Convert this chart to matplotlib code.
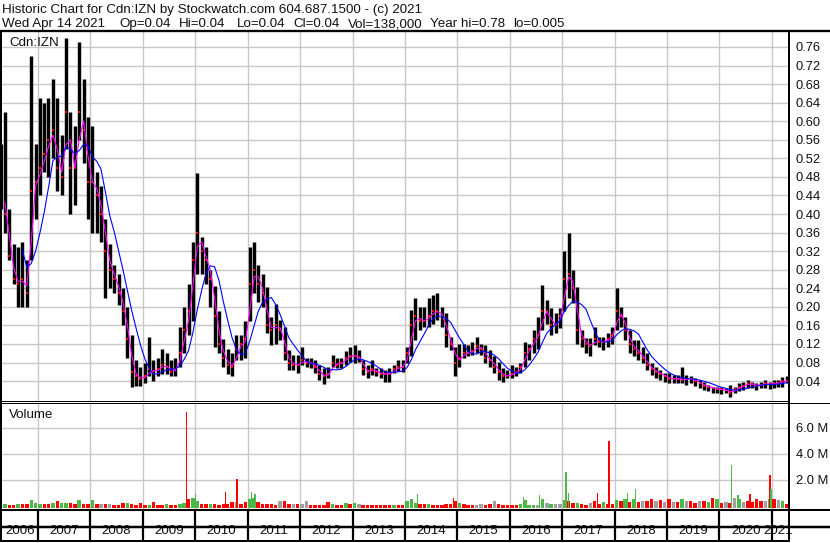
import matplotlib
matplotlib.use("Agg")
import matplotlib.pyplot as plt
import matplotlib.dates as mdates
from matplotlib.transforms import Affine2D
from matplotlib.lines import Line2D
import numpy as np
import pandas as pd

plt.rcParams['font.family'] = ['Liberation Sans', 'DejaVu Sans']

# ---------------- data (monthly, Apr 2006 .. Apr 2021) ----------------
month_start = '2006-04-01'
month_end = '2021-04-01'

price_high = [
    0.55, 0.62, 0.41, 0.335, 0.33, 0.34, 0.30, 0.74, 0.55,
    0.65, 0.64, 0.65, 0.69, 0.65, 0.57, 0.78, 0.62, 0.59, 0.77, 0.69, 0.61,
    0.59, 0.49, 0.46, 0.39, 0.335, 0.29, 0.27, 0.24, 0.20, 0.14, 0.085, 0.07,
    0.08, 0.134, 0.085, 0.09, 0.11, 0.10, 0.085, 0.09, 0.157, 0.20, 0.25, 0.34,
    0.488, 0.35, 0.33, 0.28, 0.244, 0.19, 0.13, 0.11, 0.10, 0.14, 0.14, 0.17,
    0.33, 0.34, 0.29, 0.27, 0.243, 0.179, 0.207, 0.172, 0.157, 0.107, 0.096, 0.096,
    0.114, 0.089, 0.089, 0.085, 0.075, 0.068, 0.071, 0.096, 0.089, 0.089, 0.104, 0.114,
    0.118, 0.107, 0.085, 0.075, 0.085, 0.068, 0.068, 0.064, 0.068, 0.075, 0.085, 0.085,
    0.114, 0.193, 0.218, 0.20, 0.20, 0.218, 0.225, 0.23, 0.20, 0.186, 0.136, 0.114,
    0.121, 0.121, 0.118, 0.125, 0.136, 0.121, 0.118, 0.107, 0.093, 0.082, 0.068, 0.064,
    0.075, 0.071, 0.078, 0.125, 0.121, 0.15, 0.179, 0.247, 0.215, 0.197, 0.186, 0.197,
    0.32, 0.36, 0.28, 0.243, 0.15, 0.132, 0.132, 0.157, 0.136, 0.136, 0.143, 0.157,
    0.24, 0.20, 0.179, 0.15, 0.129, 0.129, 0.114, 0.10, 0.078, 0.071, 0.064, 0.057,
    0.057, 0.053, 0.053, 0.071, 0.053, 0.05, 0.046, 0.042, 0.039, 0.032, 0.028, 0.028,
    0.028, 0.025, 0.032, 0.028, 0.035, 0.039, 0.042, 0.039, 0.035, 0.039, 0.042, 0.039,
    0.042, 0.042, 0.049, 0.05,
]
price_low = [
    0.41, 0.36, 0.30, 0.25, 0.20, 0.20, 0.20, 0.30, 0.39,
    0.44, 0.49, 0.48, 0.52, 0.45, 0.44, 0.54, 0.40, 0.42, 0.56, 0.51, 0.39,
    0.36, 0.36, 0.34, 0.22, 0.24, 0.23, 0.205, 0.16, 0.09, 0.028, 0.03, 0.03,
    0.035, 0.05, 0.04, 0.05, 0.056, 0.056, 0.05, 0.05, 0.07, 0.10, 0.14, 0.17,
    0.27, 0.27, 0.25, 0.20, 0.114, 0.10, 0.07, 0.056, 0.05, 0.085, 0.085, 0.09,
    0.17, 0.23, 0.21, 0.20, 0.143, 0.118, 0.12, 0.129, 0.085, 0.064, 0.064, 0.057,
    0.075, 0.071, 0.068, 0.057, 0.042, 0.034, 0.046, 0.071, 0.068, 0.068, 0.075, 0.082,
    0.078, 0.082, 0.054, 0.046, 0.054, 0.05, 0.046, 0.037, 0.039, 0.057, 0.061, 0.06,
    0.078, 0.093, 0.129, 0.15, 0.157, 0.157, 0.164, 0.172, 0.157, 0.114, 0.107, 0.05,
    0.071, 0.089, 0.093, 0.096, 0.10, 0.096, 0.078, 0.071, 0.057, 0.042, 0.039, 0.046,
    0.046, 0.05, 0.057, 0.071, 0.085, 0.10, 0.11, 0.15, 0.164, 0.139, 0.143, 0.154,
    0.19, 0.22, 0.208, 0.12, 0.114, 0.10, 0.093, 0.118, 0.114, 0.107, 0.114, 0.121,
    0.15, 0.157, 0.129, 0.10, 0.093, 0.086, 0.078, 0.064, 0.053, 0.046, 0.042, 0.039,
    0.035, 0.035, 0.035, 0.035, 0.032, 0.035, 0.03, 0.025, 0.021, 0.018, 0.014, 0.014,
    0.012, 0.014, 0.005, 0.014, 0.018, 0.021, 0.025, 0.025, 0.021, 0.025, 0.025, 0.023,
    0.025, 0.027, 0.028, 0.035,
]
price_close = [
    0.45, 0.40, 0.31, 0.26, 0.25, 0.26, 0.23, 0.45, 0.47,
    0.50, 0.53, 0.56, 0.58, 0.50, 0.48, 0.62, 0.50, 0.50, 0.62, 0.58, 0.47,
    0.47, 0.44, 0.40, 0.32, 0.28, 0.26, 0.23, 0.19, 0.13, 0.06, 0.05, 0.045,
    0.05, 0.065, 0.06, 0.065, 0.075, 0.07, 0.06, 0.065, 0.10, 0.15, 0.19, 0.30,
    0.36, 0.32, 0.30, 0.26, 0.18, 0.12, 0.09, 0.075, 0.07, 0.11, 0.12, 0.13,
    0.25, 0.28, 0.25, 0.23, 0.16, 0.15, 0.16, 0.15, 0.10, 0.08, 0.075, 0.075,
    0.085, 0.08, 0.078, 0.07, 0.055, 0.05, 0.055, 0.08, 0.075, 0.08, 0.09, 0.095,
    0.095, 0.09, 0.065, 0.06, 0.065, 0.06, 0.055, 0.055, 0.055, 0.065, 0.07, 0.07,
    0.10, 0.16, 0.18, 0.17, 0.17, 0.18, 0.19, 0.19, 0.18, 0.14, 0.12, 0.08,
    0.09, 0.10, 0.10, 0.105, 0.115, 0.11, 0.09, 0.085, 0.07, 0.06, 0.05, 0.052,
    0.055, 0.06, 0.07, 0.10, 0.11, 0.13, 0.14, 0.19, 0.19, 0.16, 0.16, 0.18,
    0.26, 0.27, 0.24, 0.15, 0.13, 0.12, 0.115, 0.13, 0.125, 0.125, 0.13, 0.14,
    0.19, 0.18, 0.15, 0.12, 0.11, 0.10, 0.09, 0.075, 0.065, 0.06, 0.055, 0.05,
    0.045, 0.045, 0.045, 0.043, 0.045, 0.045, 0.04, 0.035, 0.03, 0.027, 0.025, 0.022,
    0.022, 0.02, 0.015, 0.022, 0.027, 0.03, 0.035, 0.033, 0.03, 0.032, 0.035, 0.033,
    0.035, 0.036, 0.04, 0.04,
]
volume_m = [
    0.15, 0.15, 0.10, 0.08, 0.15, 0.12, 0.15, 0.45, 0.20,
    0.18, 0.12, 0.15, 0.20, 0.35, 0.25, 0.20, 0.20, 0.15, 0.45, 0.18, 0.15,
    0.45, 0.15, 0.12, 0.15, 0.18, 0.10, 0.10, 0.20, 0.20, 0.15, 0.10, 0.20,
    0.10, 0.08, 0.30, 0.10, 0.10, 0.12, 0.08, 0.10, 0.12, 0.25, 0.50, 0.60,
    0.40, 0.18, 0.15, 0.15, 0.12, 0.10, 0.12, 0.18, 0.30, 0.30, 0.18, 0.30,
    0.50, 0.65, 0.30, 0.18, 0.18, 0.12, 0.10, 0.35, 0.35, 0.15, 0.18, 0.12,
    0.15, 0.35, 0.10, 0.10, 0.08, 0.10, 0.30, 0.12, 0.10, 0.08, 0.22, 0.12,
    0.22, 0.15, 0.10, 0.08, 0.08, 0.06, 0.06, 0.06, 0.06, 0.10, 0.08, 0.08,
    0.40, 0.50, 0.25, 0.15, 0.12, 0.12, 0.10, 0.10, 0.10, 0.12, 0.18, 0.40,
    0.22, 0.15, 0.10, 0.10, 0.08, 0.12, 0.10, 0.15, 0.40, 0.18, 0.10, 0.06,
    0.06, 0.06, 0.12, 0.45, 0.10, 0.08, 0.10, 0.50, 0.22, 0.15, 0.15, 0.18,
    0.45, 0.40, 0.22, 0.22, 0.15, 0.10, 0.25, 0.35, 0.12, 0.30, 0.12, 0.15,
    0.45, 0.40, 0.50, 0.30, 0.50, 0.30, 0.35, 0.40, 0.50, 0.35, 0.45, 0.30,
    0.50, 0.30, 0.30, 0.50, 0.40, 0.35, 0.25, 0.40, 0.35, 0.30, 0.60, 0.55,
    0.25, 0.30, 0.25, 0.60, 0.50, 0.30, 0.35, 0.30, 0.50, 0.35, 0.40, 0.55,
    0.50, 0.45, 0.40, 0.12,
]
volume_dir = list(
    "rgrrgrrgg"
    "grrgrggrrgrr"
    "grkrkrrrgrrr"
    "rgrrrgrrggrg"
    "grrgrrrrrkrr"
    "ggrrrrrkrrkr"
    "kkrrrrrgrrgr"
    "gkrrrrrrrgrr"
    "gggrrgrrrrrr"
    "grrrkkrrkrrr"
    "rrggggkgkgkk"
    "grrgrrkrrgrr"
    "grgrgrkrrkrk"
    "rkrgkrrkrgrg"
    "rkrkgkrrrrkg"
    "rkgr"
)
spike_dates = ['2009-11-02', '2010-01-02', '2010-07-30', '2010-10-19', '2011-01-28',
               '2011-02-20', '2014-03-28', '2014-12-05', '2016-04-05', '2016-07-27',
               '2017-01-25', '2017-02-13', '2017-09-02', '2017-11-24', '2018-04-01',
               '2018-05-27', '2020-03-25', '2020-05-08', '2020-07-31', '2020-12-17',
               '2020-12-24']
spike_volume_m = [7.2, 0.95, 1.1, 2.05, 1.1, 0.95, 0.92, 0.64, 0.7, 0.85, 2.64, 0.97,
                  0.97, 5.0, 0.97, 1.3, 3.15, 0.85, 0.92, 2.38, 1.3]
spike_dir = list("rgrrgggrggggrrggggrrg")

price_ticks = [0.04, 0.08, 0.12, 0.16, 0.20, 0.24, 0.28, 0.32, 0.36, 0.40,
               0.44, 0.48, 0.52, 0.56, 0.60, 0.64, 0.68, 0.72, 0.76]
volume_ticks = [2.0, 4.0, 6.0]
year_labels = list(range(2006, 2022))

header1 = "Historic Chart for Cdn:IZN by Stockwatch.com 604.687.1500 - (c) 2021"
header2_items = ["Wed Apr 14 2021", "Op=0.04", "Hi=0.04", "Lo=0.04", "Cl=0.04",
                 "Vol=138,000", "Year hi=0.78", "lo=0.005"]
header2_x = [2, 119.3, 179, 237.3, 293.3, 348.3, 430, 513]

# ---------------- figure ----------------
W, H = 830, 543
fig = plt.figure(figsize=(W / 100, H / 100), dpi=100)
fig.patch.set_facecolor('white')
pix = Affine2D().scale(1.0 / W, -1.0 / H).translate(0, 1) + fig.transFigure

def add_ax(x0, y0, x1, y1, **kw):
    return fig.add_axes([x0 / W, 1 - y1 / H, (x1 - x0) / W, (y1 - y0) / H], **kw)

dates = pd.date_range(month_start, month_end, freq='MS') + pd.Timedelta(days=14)
n = len(dates)
hi = np.array(price_high[:n]); lo = np.array(price_low[:n]); cl = np.array(price_close[:n])
ma_fast = pd.Series(cl).rolling(2).mean().values
ma_slow = pd.Series(cl).rolling(6).mean().values

ppd = 734.0 / (mdates.date2num(pd.Timestamp('2021-01-01')) - mdates.date2num(pd.Timestamp('2007-01-01')))
x_left = mdates.date2num(pd.Timestamp('2007-01-01')) - 36.0 / ppd
x_right = mdates.date2num(pd.Timestamp('2021-01-01')) + 17.0 / ppd
year_bounds = [pd.Timestamp(f'{y}-01-01') for y in range(2007, 2022)]

GRID = '#c8c8c8'
FS = 9.3
HFS = 9.6
TXT = '#101010'

# price panel
axp = add_ax(2, 31, 789, 401)
axp.set_xlim(x_left, x_right)
axp.set_ylim(-0.0029, 0.7944)
for s in axp.spines.values():
    s.set_visible(False)
axp.set_yticks(price_ticks)
axp.set_yticklabels([f'{t:.2f}' for t in price_ticks])
axp.yaxis.tick_right()
axp.tick_params(axis='y', length=0, pad=5, labelsize=FS, labelcolor=TXT)
axp.set_xticks([])
for t in price_ticks:
    axp.axhline(t, color=GRID, lw=1.0, zorder=0)
for d in year_bounds:
    axp.axvline(d, color=GRID, lw=1.0, zorder=0)
axp.vlines(dates, lo, hi, colors='black', linewidth=2.45, capstyle='butt', zorder=2)
axp.plot(dates, cl, linestyle='none', marker='s', markersize=2.1, color='red',
         markeredgewidth=0, zorder=3)
axp.plot(dates, ma_fast, color='#ff00ff', lw=0.8, zorder=4)
axp.plot(dates, ma_slow, color='#0000ff', lw=0.8, zorder=5)
axp.text(9, 45.7, 'Cdn:IZN', transform=pix, fontsize=HFS, va='baseline', ha='left', color=TXT)

# volume panel
axv = add_ax(2, 403, 789, 510)
axv.set_xlim(x_left, x_right)
axv.set_ylim(-0.31, 7.92)
for s in axv.spines.values():
    s.set_visible(False)
axv.set_yticks(volume_ticks)
axv.set_yticklabels([f'{t:.1f} M' for t in volume_ticks])
axv.yaxis.tick_right()
axv.tick_params(axis='y', length=0, pad=5, labelsize=FS, labelcolor=TXT)
axv.set_xticks([])
for t in volume_ticks:
    axv.axhline(t, color=GRID, lw=1.0, zorder=0)
for d in year_bounds:
    axv.axvline(d, color=GRID, lw=1.0, zorder=0)
cmap = {'r': '#ff0000', 'g': '#4cb848', 'k': '#a0a0a0'}
vol = np.array(volume_m[:n])
axv.bar(dates, vol + 0.18, bottom=-0.18, width=24, color=[cmap[c] for c in volume_dir[:n]],
        linewidth=0, zorder=2)
sd = pd.to_datetime(spike_dates)
axv.bar(sd, np.array(spike_volume_m) + 0.18, bottom=-0.18, width=11,
        color=[cmap[c] for c in spike_dir], linewidth=0, zorder=3)
axv.text(9, 418.3, 'Volume', transform=pix, fontsize=HFS, va='baseline', ha='left', color=TXT)

# date rows
axd = add_ax(2, 510, 789, 541)
axd.set_xlim(x_left, x_right)
axd.set_ylim(0, 1)
axd.axis('off')
for d in year_bounds:
    axd.axvline(d, color='black', lw=1.6)
for y in year_labels:
    a = max(mdates.date2num(pd.Timestamp(f'{y}-01-01')), x_left)
    b = min(mdates.date2num(pd.Timestamp(f'{y + 1}-01-01')), x_right)
    axd.text((a + b) / 2 - (2.5 / ppd if y == 2021 else 0), 0.22, str(y), fontsize=HFS,
             ha='center', va='baseline', color=TXT, clip_on=False)

# frame lines (pixel space)
def pline(x0, y0, x1, y1, lw):
    fig.add_artist(Line2D([x0, x1], [y0, y1], transform=pix, color='black', lw=lw * 0.72,
                          solid_capstyle='butt'))

pline(0, 30.5, W, 30.5, 2.3)
pline(1, 30, 1, 542, 2)
pline(789, 30, 789, 542, 2)
pline(0, 400.5, 789, 400.5, 1)
pline(0, 402.8, W, 402.8, 1)
pline(0, 509.6, W, 509.6, 2)
pline(0, 527.0, W, 527.0, 2.5)
pline(0, 541.0, 789, 541.0, 2)

fig.text(2, 13.4, header1, transform=pix, fontsize=HFS, va='baseline', ha='left', color=TXT)
for s, x in zip(header2_items, header2_x):
    fig.text(x, 27.4, s, transform=pix, fontsize=HFS, va='baseline', ha='left', color=TXT)

fig.savefig('out.png', dpi=100, facecolor='white')
